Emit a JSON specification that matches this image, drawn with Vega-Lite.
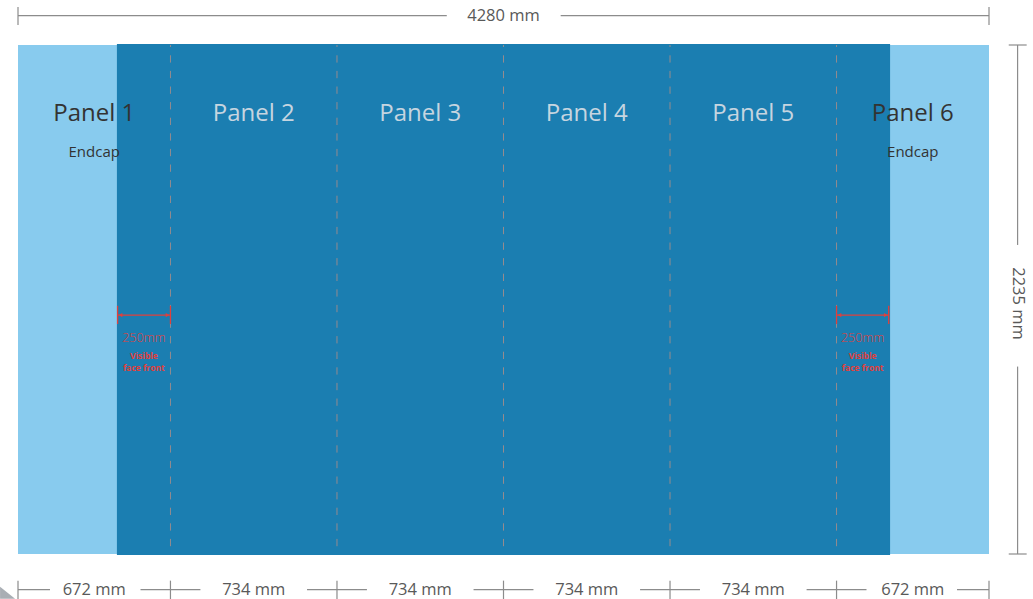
{
  "$schema": "https://vega.github.io/schema/vega-lite/v6.json",
  "width": 1033,
  "height": 599,
  "autosize": "none",
  "padding": 0,
  "background": "white",
  "config": {"view": {"stroke": null}, "text": {"font": "Open Sans"}},
  "datasets": {
    "areas": [
      {"part": "Endcap", "x": 0, "x2": 4280, "y": 0, "y2": 2235},
      {"part": "Face", "x": 436, "x2": 3844, "y": -4, "y2": 2239}
    ],
    "lines": [
      {"kind": "join", "x": 672, "x2": 672, "y": 2235, "y2": 0},
      {"kind": "join", "x": 1406, "x2": 1406, "y": 2235, "y2": 0},
      {"kind": "join", "x": 2140, "x2": 2140, "y": 2235, "y2": 0},
      {"kind": "join", "x": 2874, "x2": 2874, "y": 2235, "y2": 0},
      {"kind": "join", "x": 3608, "x2": 3608, "y": 2235, "y2": 0},
      {"kind": "dim", "x": 0, "x2": 1890, "y": 2364, "y2": 2364},
      {"kind": "dim", "x": 2392, "x2": 4280, "y": 2364, "y2": 2364},
      {"kind": "dim", "x": 0, "x2": 0, "y": 2323, "y2": 2402},
      {"kind": "dim", "x": 4280, "x2": 4280, "y": 2323, "y2": 2402},
      {"kind": "dim", "x": 0, "x2": 141, "y": -156, "y2": -156},
      {"kind": "dim", "x": 540, "x2": 804, "y": -156, "y2": -156},
      {"kind": "dim", "x": 1274, "x2": 1538, "y": -156, "y2": -156},
      {"kind": "dim", "x": 2008, "x2": 2272, "y": -156, "y2": -156},
      {"kind": "dim", "x": 2742, "x2": 3006, "y": -156, "y2": -156},
      {"kind": "dim", "x": 3476, "x2": 3740, "y": -156, "y2": -156},
      {"kind": "dim", "x": 4139, "x2": 4280, "y": -156, "y2": -156},
      {"kind": "dim", "x": 0, "x2": 0, "y": -117, "y2": -200},
      {"kind": "dim", "x": 672, "x2": 672, "y": -117, "y2": -200},
      {"kind": "dim", "x": 1406, "x2": 1406, "y": -117, "y2": -200},
      {"kind": "dim", "x": 2140, "x2": 2140, "y": -117, "y2": -200},
      {"kind": "dim", "x": 2874, "x2": 2874, "y": -117, "y2": -200},
      {"kind": "dim", "x": 3608, "x2": 3608, "y": -117, "y2": -200},
      {"kind": "dim", "x": 4280, "x2": 4280, "y": -117, "y2": -200},
      {"kind": "dim", "x": 4406, "x2": 4406, "y": 0, "y2": 823},
      {"kind": "dim", "x": 4406, "x2": 4406, "y": 1357, "y2": 2235},
      {"kind": "dim", "x": 4367, "x2": 4446, "y": 0, "y2": 0},
      {"kind": "dim", "x": 4367, "x2": 4446, "y": 2235, "y2": 2235},
      {"kind": "red", "x": 439, "x2": 672, "y": 1049, "y2": 1049},
      {"kind": "red", "x": 3608, "x2": 3838, "y": 1049, "y2": 1049},
      {"kind": "red", "x": 439, "x2": 439, "y": 1010, "y2": 1090},
      {"kind": "red", "x": 672, "x2": 672, "y": 1010, "y2": 1090},
      {"kind": "red", "x": 3608, "x2": 3608, "y": 1010, "y2": 1090},
      {"kind": "red", "x": 3838, "x2": 3838, "y": 1010, "y2": 1090}
    ],
    "arrows": [
      {"x": 452, "y": 1049, "dir": "left"},
      {"x": 659, "y": 1049, "dir": "right"},
      {"x": 3621, "y": 1049, "dir": "left"},
      {"x": 3825, "y": 1049, "dir": "right"}
    ],
    "labels": [
      {"kind": "endcap", "text": "Panel 1", "x": 336, "y": 1901},
      {"kind": "face", "text": "Panel 2", "x": 1039, "y": 1901},
      {"kind": "face", "text": "Panel 3", "x": 1773, "y": 1901},
      {"kind": "face", "text": "Panel 4", "x": 2507, "y": 1901},
      {"kind": "face", "text": "Panel 5", "x": 3241, "y": 1901},
      {"kind": "endcap", "text": "Panel 6", "x": 3944, "y": 1901},
      {"kind": "sub", "text": "Endcap", "x": 336, "y": 1745},
      {"kind": "sub", "text": "Endcap", "x": 3944, "y": 1745},
      {"kind": "dim", "text": "4280 mm", "x": 2140, "y": 2364},
      {"kind": "dim", "text": "672 mm", "x": 336, "y": -156},
      {"kind": "dim", "text": "734 mm", "x": 1039, "y": -156},
      {"kind": "dim", "text": "734 mm", "x": 1773, "y": -156},
      {"kind": "dim", "text": "734 mm", "x": 2507, "y": -156},
      {"kind": "dim", "text": "734 mm", "x": 3241, "y": -156},
      {"kind": "dim", "text": "672 mm", "x": 3944, "y": -156},
      {"kind": "dimv", "text": "2235 mm", "x": 4406, "y": 1100},
      {"kind": "redmm", "text": "250mm", "x": 555, "y": 950},
      {"kind": "redmm", "text": "250mm", "x": 3723, "y": 950},
      {"kind": "note", "text": "Visible", "x": 555, "y": 871},
      {"kind": "note", "text": "face front", "x": 555, "y": 818},
      {"kind": "note", "text": "Visible", "x": 3723, "y": 871},
      {"kind": "note", "text": "face front", "x": 3723, "y": 818}
    ],
    "corner": [{"x": -79, "y": -197}]
  },
  "encoding": {
    "x": {"field": "x", "type": "quantitative", "scale": {"domain": [-79.34, 4473.93]}, "axis": null},
    "y": {"field": "y", "type": "quantitative", "scale": {"domain": [-197.6, 2432.6]}, "axis": null}
  },
  "layer": [
    {
      "data": {"name": "areas"},
      "mark": {"type": "rect"},
      "encoding": {
        "x2": {"field": "x2"},
        "y2": {"field": "y2"},
        "color": {"field": "part", "type": "nominal", "scale": {"domain": ["Endcap", "Face"], "range": ["#88CBEE", "#1B7EB1"]}, "legend": null}
      }
    },
    {
      "data": {"name": "lines"},
      "transform": [{"filter": "datum.kind == 'join'"}],
      "mark": {"type": "rule", "color": "#958b8e", "strokeWidth": 1, "strokeDash": [7.3, 8.3], "strokeDashOffset": 5.3},
      "encoding": {"x2": {"field": "x2"}, "y2": {"field": "y2"}}
    },
    {
      "data": {"name": "lines"},
      "transform": [{"filter": "datum.kind == 'dim'"}],
      "mark": {"type": "rule", "color": "#8c8c8c", "strokeWidth": 1.2},
      "encoding": {"x2": {"field": "x2"}, "y2": {"field": "y2"}}
    },
    {
      "data": {"name": "lines"},
      "transform": [{"filter": "datum.kind == 'red'"}],
      "mark": {"type": "rule", "color": "#e0403c", "strokeWidth": 1.3},
      "encoding": {"x2": {"field": "x2"}, "y2": {"field": "y2"}}
    },
    {
      "data": {"name": "arrows"},
      "mark": {"type": "point", "filled": true, "color": "#e0403c", "size": 18, "opacity": 1},
      "encoding": {
        "shape": {"field": "dir", "type": "nominal", "scale": {"domain": ["left", "right"], "range": ["triangle-left", "triangle-right"]}, "legend": null}
      }
    },
    {
      "data": {"name": "labels"},
      "transform": [{"filter": "datum.kind == 'endcap'"}],
      "mark": {"type": "text", "fontSize": 24, "color": "#333333", "baseline": "alphabetic", "align": "center"},
      "encoding": {"text": {"field": "text"}}
    },
    {
      "data": {"name": "labels"},
      "transform": [{"filter": "datum.kind == 'face'"}],
      "mark": {"type": "text", "fontSize": 24, "color": "#c6d5e0", "baseline": "alphabetic", "align": "center"},
      "encoding": {"text": {"field": "text"}}
    },
    {
      "data": {"name": "labels"},
      "transform": [{"filter": "datum.kind == 'sub'"}],
      "mark": {"type": "text", "fontSize": 15, "color": "#333333", "baseline": "alphabetic", "align": "center"},
      "encoding": {"text": {"field": "text"}}
    },
    {
      "data": {"name": "labels"},
      "transform": [{"filter": "datum.kind == 'dim'"}],
      "mark": {"type": "text", "fontSize": 16.5, "color": "#595959", "baseline": "middle", "align": "center"},
      "encoding": {"text": {"field": "text"}}
    },
    {
      "data": {"name": "labels"},
      "transform": [{"filter": "datum.kind == 'dimv'"}],
      "mark": {"type": "text", "fontSize": 16.5, "color": "#595959", "baseline": "middle", "align": "center", "angle": 90},
      "encoding": {"text": {"field": "text"}}
    },
    {
      "data": {"name": "labels"},
      "transform": [{"filter": "datum.kind == 'redmm'"}],
      "mark": {"type": "text", "fontSize": 12.5, "fontWeight": 300, "color": "#e0403c", "baseline": "middle", "align": "center"},
      "encoding": {"text": {"field": "text"}}
    },
    {
      "data": {"name": "labels"},
      "transform": [{"filter": "datum.kind == 'note'"}],
      "mark": {"type": "text", "fontSize": 8.5, "fontWeight": "bold", "color": "#e0403c", "baseline": "middle", "align": "center"},
      "encoding": {"text": {"field": "text"}}
    },
    {
      "data": {"name": "corner"},
      "mark": {"type": "point", "filled": true, "color": "#a9aeb4", "opacity": 1, "size": 900, "shape": "M 0 -0.8 L 1 0 L 0 0 Z"}
    }
  ]
}
